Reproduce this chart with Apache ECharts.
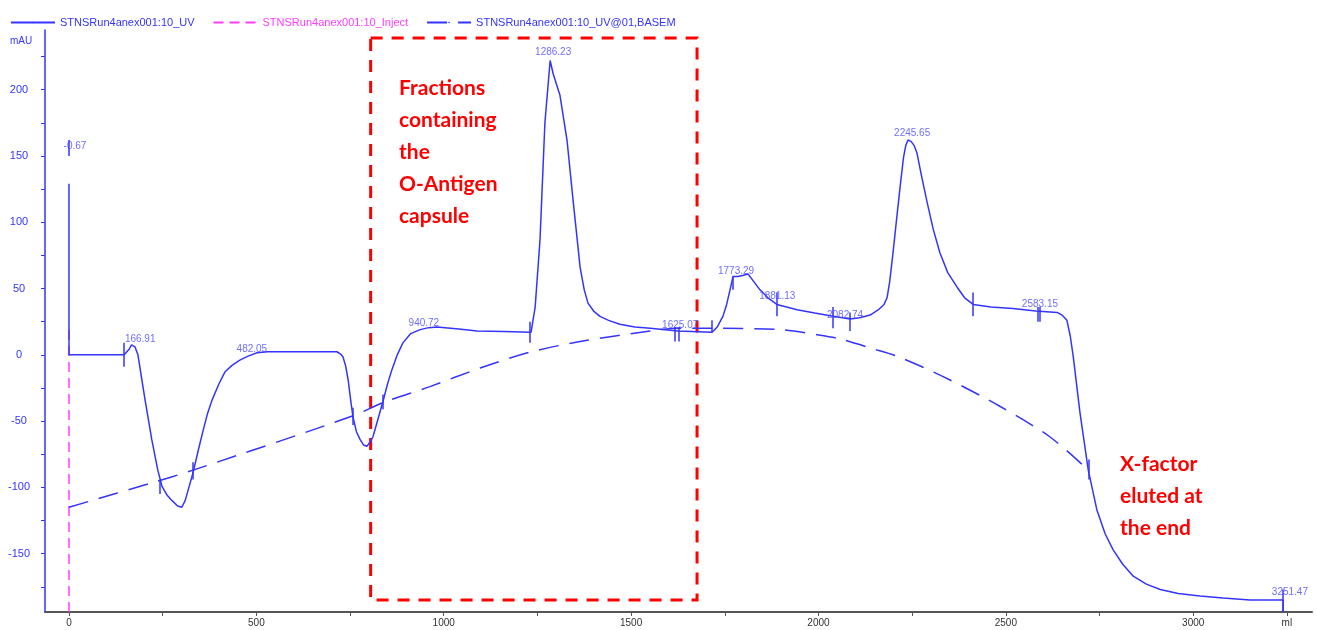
<!DOCTYPE html>
<html>
<head>
<meta charset="utf-8">
<script src="https://cdn.jsdelivr.net/npm/echarts@6/dist/echarts.min.js"></script>
<style>
  html, body { margin: 0; padding: 0; background: #fff; }
  #chart { width: 1317px; height: 630px; }
</style>
</head>
<body>
<div id="chart"></div>
<script>
// UV trace (ml, mAU)
const uvData = [
  [0, 129], [0, 0], [147, 0], [160, 4], [167, 7.5], [171, 8], [176, 6], [180, 3], [184, 0],
  [203, -34], [221, -64], [237, -87], [248, -99], [262, -106], [275, -110], [290, -114],
  [301, -115], [310, -110], [320, -100], [331, -89], [345, -72], [358, -57], [370, -44],
  [382, -34], [400, -22], [416, -13], [435, -8], [456, -4], [478, -1], [502, 1.5], [530, 2.3],
  [715, 2.3], [725, 0.5], [731, -1.5], [738, -8], [745, -19], [752, -35], [758, -47], [767, -58],
  [777, -64], [786, -68], [795, -69], [803, -66], [811, -62], [825, -48], [838, -35], [850, -22],
  [862, -11], [876, 0], [891, 9], [912, 16], [937, 19], [960, 20.5], [982, 21], [1040, 19.5],
  [1089, 18], [1160, 17.5], [1233, 17], [1244, 36], [1257, 87], [1270, 175], [1284, 222],
  [1292, 212], [1310, 196], [1329, 162], [1345, 117], [1364, 66], [1375, 49], [1385, 39],
  [1400, 33], [1417, 29], [1440, 26], [1470, 23], [1510, 21], [1551, 20], [1625, 18], [1716, 17],
  [1730, 21], [1745, 29], [1755, 38], [1764, 49], [1772, 59], [1785, 59], [1800, 60], [1812, 61],
  [1828, 55], [1844, 49], [1865, 43], [1889, 38], [1915, 36], [1943, 34], [1990, 31.5],
  [2039, 29], [2084, 27], [2110, 28], [2138, 30], [2160, 34], [2175, 38], [2183, 43], [2190, 55],
  [2199, 77], [2208, 101], [2218, 127], [2227, 149], [2233, 158], [2239, 162], [2247, 161],
  [2255, 158], [2263, 152], [2275, 135], [2290, 115], [2306, 95], [2324, 77], [2345, 62],
  [2370, 51], [2390, 43], [2413, 38], [2460, 36], [2519, 35], [2580, 33], [2637, 32], [2650, 30],
  [2663, 26], [2672, 14], [2680, -1.5], [2698, -44], [2720, -87], [2743, -117], [2765, -135],
  [2786, -147], [2812, -158], [2840, -167], [2875, -173], [2912, -177], [2960, -180],
  [3018, -182], [3080, -183.5], [3152, -185], [3240, -185], [3240, -194]
];
// baseline (BASEM)
const baseData = [
  [0, -115], [216, -97], [331, -87], [758, -46], [838, -36], [963, -24], [1097, -10], [1230, 2],
  [1364, 10], [1551, 18], [1630, 20], [1719, 20], [1897, 19], [2000, 15], [2058, 12], [2140, 5],
  [2218, -2], [2351, -19], [2485, -39], [2618, -62], [2720, -87]
];
// injection marker
const injectData = [[0, -194], [0, 23]];

// fraction tick marks: [ml, low, high]
const fracTicks = [
  [0, 150, 162], [147, -9, 9], [243, -105, -94], [331, -94, -81], [758, -53, -40], [838, -41, -30],
  [1230, 9, 25], [1617, 10, 21], [1628, 10, 21], [1716, 17, 26], [1772, 49, 59], [1889, 29, 47],
  [2039, 20, 36], [2084, 18, 32], [2413, 29, 47], [2585, 25, 36], [2591, 25, 36], [2720, -94, -79],
  [3240, -194, -177]
];

// peak labels and where they sit
const peakNames = ['-0.67', '166.91', '482.05', '940.72', '1286.23', '1625.07', '1773.29',
  '1881.13', '2082.74', '2245.65', '2583.15', '3251.47'];
const peakX = [16, 190, 488, 947, 1292, 1631, 1780, 1890, 2071, 2250, 2591, 3258];
const peakY = [157, 12, 4, 24, 228, 22, 63, 44, 30, 167, 38, -179];

const xLabels = [0, 500, 1000, 1500, 2000, 2500, 3000, 3250];
const xTicks = [0, 250, 500, 750, 1000, 1250, 1500, 1750, 2000, 2250, 2500, 2750, 3000, 3250];
const yLabels = [-150, -100, -50, 0, 50, 100, 150, 200];
const yTicks = [-175, -150, -125, -100, -75, -50, -25, 0, 25, 50, 75, 100, 125, 150, 175, 200, 225];

// highlighted fraction window [x0, y0, x1, y1]
const fractionBox = [805, 239, 1676, -185];

const names = ['STNSRun4anex001:10_UV', 'STNSRun4anex001:10_Inject', 'STNSRun4anex001:10_UV@01,BASEM'];
const BLUE = '#3434ff';
const MAGENTA = '#ff3cff';
const RED = '#ff0000';

const chart = echarts.init(document.getElementById('chart'));

chart.setOption({
  animation: false,
  textStyle: { fontFamily: 'Liberation Sans' },
  grid: { left: 45, right: 5, top: 30, bottom: 18 },
  legend: {
    left: 5, top: 12, itemWidth: 44, itemHeight: 2, itemGap: 18,
    textStyle: { fontSize: 11 },
    data: [
      { name: names[0], textStyle: { color: BLUE } },
      { name: names[1], textStyle: { color: MAGENTA } },
      { name: names[2], textStyle: { color: BLUE } }
    ]
  },
  xAxis: {
    type: 'value', min: -64, max: 3317,
    axisLine: { onZero: false, lineStyle: { color: '#555', width: 2 } },
    axisTick: { customValues: xTicks, length: 4, lineStyle: { color: '#555' } },
    axisLabel: {
      customValues: xLabels, color: '#333', fontSize: 10, margin: 6,
      formatter: v => (v === 3250 ? 'ml' : String(v))
    },
    splitLine: { show: false }
  },
  yAxis: {
    type: 'value', min: -194, max: 245,
    axisLine: { onZero: false, lineStyle: { color: BLUE, width: 1.5 } },
    axisTick: { customValues: yTicks, length: 4, lineStyle: { color: BLUE } },
    axisLabel: { customValues: yLabels, color: BLUE, fontSize: 11, align: 'center', margin: 26 },
    splitLine: { show: false }
  },
  graphic: [
    { type: 'text', left: 10, top: 36, style: { text: 'mAU', fill: BLUE, font: '10px "Liberation Sans"' } },
    {
      type: 'text', left: 399, top: 72,
      style: {
        text: 'Fractions\ncontaining\nthe\nO-Antigen\ncapsule',
        fill: RED, font: 'bold 21px Lato', lineHeight: 32
      }
    },
    {
      type: 'text', left: 1120, top: 448,
      style: { text: 'X-factor\neluted at\nthe end', fill: RED, font: 'bold 21px Lato', lineHeight: 32 }
    }
  ],
  series: [
    {
      name: names[0], type: 'line', data: uvData, showSymbol: false, symbol: 'none',
      lineStyle: { color: BLUE, width: 1.5 }, itemStyle: { color: BLUE },
      z: 3,
      markLine: {
        silent: true, symbol: 'none', label: { show: false },
        lineStyle: { color: BLUE, width: 1.5, type: 'solid' },
        data: fracTicks.map(t => [{ coord: [t[0], t[1]] }, { coord: [t[0], t[2]] }])
      },
      markArea: {
        silent: true,
        itemStyle: { color: 'rgba(0,0,0,0)', borderColor: RED, borderWidth: 3, borderType: [12, 9] },
        data: [[{ coord: [fractionBox[0], fractionBox[1]] }, { coord: [fractionBox[2], fractionBox[3]] }]]
      }
    },
    {
      name: names[1], type: 'line', data: injectData, showSymbol: false, symbol: 'none',
      lineStyle: { color: MAGENTA, width: 1.5, type: [10, 6] }, itemStyle: { color: MAGENTA }, z: 2
    },
    {
      name: names[2], type: 'line', data: baseData, showSymbol: false, symbol: 'none', smooth: 0.3,
      lineStyle: { color: BLUE, width: 1.5, type: [20, 11] }, itemStyle: { color: BLUE }, z: 2
    },
    {
      name: 'peaks', type: 'scatter', symbolSize: 0, silent: true,
      data: peakNames.map((n, i) => ({ name: n, value: [peakX[i], peakY[i]] })),
      label: {
        show: true, position: 'inside', formatter: p => p.name,
        color: '#4a4aff', fontSize: 10
      },
      z: 4
    }
  ]
});
</script>
</body>
</html>
